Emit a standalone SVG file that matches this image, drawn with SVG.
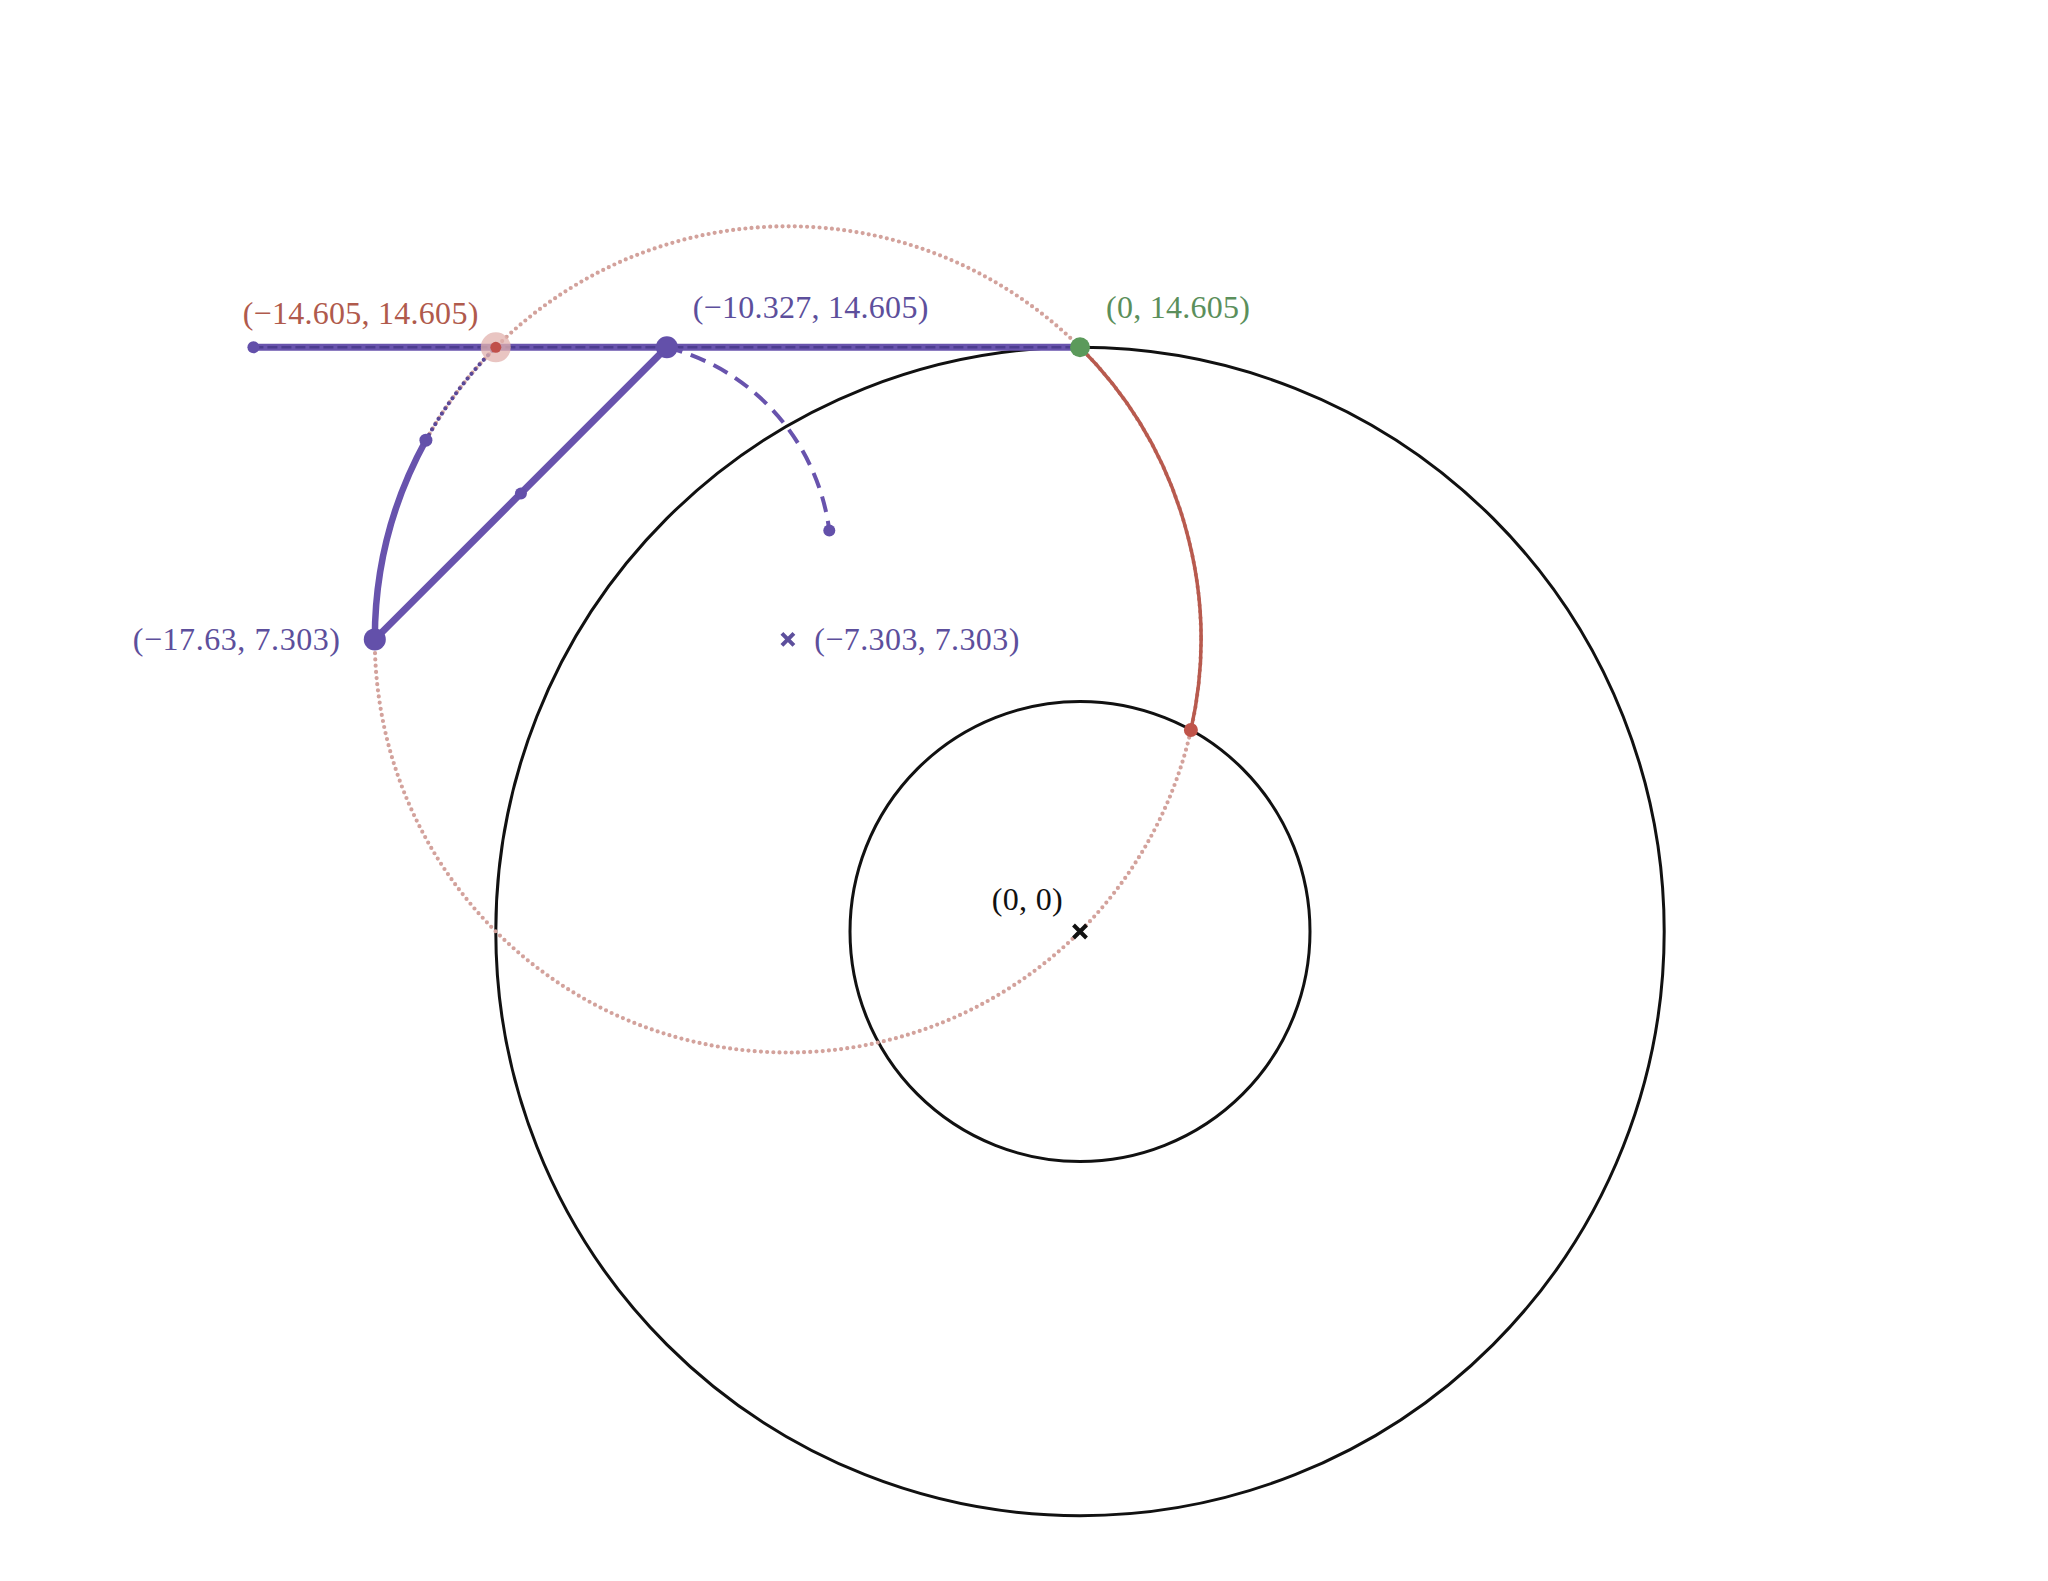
<svg xmlns="http://www.w3.org/2000/svg" width="2048" height="1581" viewBox="0 0 2048 1581">
<style>
  .lbl { font-family: "Liberation Serif", "DejaVu Serif", serif; font-size: 32px; }
  .purple-t { fill: #5d4f9c; }
  .red-t { fill: #b05a4c; }
  .green-t { fill: #5b8f5b; }
  .black-t { fill: #111111; }
  .circ { fill: none; stroke: #111111; stroke-width: 3; }
  .pinkdot { fill: none; stroke: #d3a29c; stroke-width: 4.2; stroke-linecap: round; stroke-dasharray: 0 6.2; }
  .pline { fill: none; stroke: #6853ad; stroke-linecap: round; }
  .pdash { fill: none; stroke: #4c3c90; stroke-width: 2.5; stroke-dasharray: 10 4; }
  .pdot { fill: #6350aa; }
  .xmark { fill: none; stroke-width: 4; stroke-linecap: butt; }
</style>
<rect width="2048" height="1581" fill="#ffffff"/>

<g id="circles">
  <circle id="outer-circle" class="circ" cx="1080" cy="931.5" r="584.2"/>
  <circle id="inner-circle" class="circ" cx="1080" cy="931.5" r="230"/>
  <circle id="construction-circle" class="pinkdot" cx="787.9" cy="639.4" r="413.1"/>
</g>

<g id="connectors">
  <path id="red-arc" d="M 1080 347.3 A 413.1 413.1 0 0 1 1190.9 730" fill="none" stroke="#b85a4e" stroke-width="3.5"/>
  <line class="pline" x1="253.4" y1="347.3" x2="1080" y2="347.3" stroke-width="7"/>
  <line class="pdash" x1="253.4" y1="347.3" x2="1080" y2="347.3"/>
  <line class="pline" x1="666.9" y1="347.3" x2="374.8" y2="639.4" stroke-width="7"/>
  <path class="pline" d="M 374.8 639.4 A 413.1 413.1 0 0 1 425.9 440.2" stroke-width="6.5"/>
  <path d="M 425.9 440.2 A 413.1 413.1 0 0 1 495.8 347.3" fill="none" stroke="#5a4898" stroke-width="4.2" stroke-linecap="round" stroke-dasharray="0 6.2"/>
  <path d="M 666.9 347.3 A 218.3 218.3 0 0 1 829.3 530.5" fill="none" stroke="#6853ad" stroke-width="4" stroke-dasharray="16 9"/>
</g>

<g id="node-left-end">
  <circle class="pdot" cx="253.4" cy="347.3" r="6"/>
</g>
<g id="node-mid-diagonal">
  <circle class="pdot" cx="520.9" cy="493.4" r="6"/>
</g>
<g id="node-arc-point">
  <circle class="pdot" cx="425.9" cy="440.2" r="6.5"/>
</g>
<g id="node-dashed-end">
  <circle class="pdot" cx="829.3" cy="530.5" r="6"/>
</g>

<g id="node-m14605">
  <circle cx="495.8" cy="347.3" r="15" fill="#e2b2ad" fill-opacity="0.75"/>
  <circle cx="495.8" cy="347.3" r="5.5" fill="#c0504a"/>
  <text class="lbl red-t" x="242.7" y="324" textLength="235.6" lengthAdjust="spacing">(−14.605, 14.605)</text>
</g>

<g id="node-m10327">
  <circle class="pdot" cx="666.9" cy="347.3" r="11"/>
  <text class="lbl purple-t" x="692.7" y="317.5" textLength="235.6" lengthAdjust="spacing">(−10.327, 14.605)</text>
</g>

<g id="node-top">
  <circle cx="1080" cy="347.3" r="10" fill="#5b9a5b"/>
  <text class="lbl green-t" x="1106" y="317.5" textLength="144" lengthAdjust="spacing">(0, 14.605)</text>
</g>

<g id="node-m1763">
  <circle class="pdot" cx="374.8" cy="639.4" r="11"/>
  <text class="lbl purple-t" x="132.7" y="650" textLength="207.3" lengthAdjust="spacing">(−17.63, 7.303)</text>
</g>

<g id="node-center-construction">
  <path class="xmark" stroke="#5d4f9c" d="M 781.9 633.4 L 793.9 645.4 M 793.9 633.4 L 781.9 645.4"/>
  <text class="lbl purple-t" x="814.3" y="650" textLength="205" lengthAdjust="spacing">(−7.303, 7.303)</text>
</g>

<g id="node-intersection">
  <circle cx="1190.9" cy="730" r="7" fill="#c0544a"/>
</g>

<g id="node-origin">
  <path class="xmark" stroke="#111111" d="M 1073.5 925 L 1086.5 938 M 1086.5 925 L 1073.5 938"/>
  <text class="lbl black-t" x="991.7" y="910" textLength="71" lengthAdjust="spacing">(0, 0)</text>
</g>
</svg>
